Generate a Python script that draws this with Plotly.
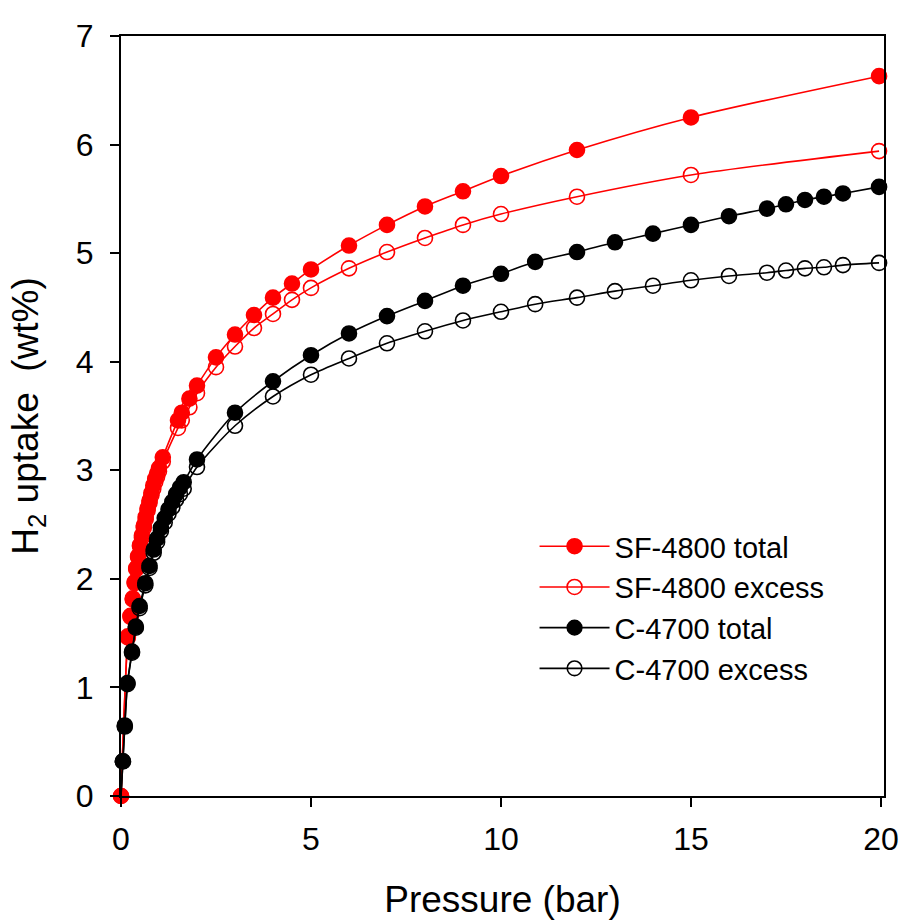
import plotly.graph_objects as go

# Hydrogen uptake isotherms (wt%) versus pressure (bar)
sf_total_p = [0, 0.18, 0.25, 0.31, 0.36, 0.4, 0.45, 0.5, 0.55, 0.6, 0.65, 0.7, 0.75,
              0.8, 0.85, 0.9, 0.95, 1.0, 1.1, 1.5, 1.6, 1.8, 2, 2.5, 3, 3.5, 4, 4.5,
              5, 6, 7, 8, 9, 10, 12, 15, 19.95]
sf_total_v = [0, 1.47, 1.66, 1.82, 1.97, 2.10, 2.21, 2.31, 2.40, 2.49, 2.57, 2.65, 2.72,
              2.79, 2.86, 2.92, 2.97, 3.02, 3.12, 3.46, 3.53, 3.66, 3.78, 4.04, 4.25,
              4.43, 4.59, 4.72, 4.85, 5.07, 5.26, 5.43, 5.57, 5.71, 5.95, 6.25, 6.63]

sf_excess_p = sf_total_p
sf_excess_v = [0, 1.46, 1.65, 1.81, 1.96, 2.09, 2.20, 2.30, 2.38, 2.47, 2.55, 2.63, 2.70,
               2.77, 2.83, 2.89, 2.94, 2.99, 3.08, 3.39, 3.46, 3.58, 3.71, 3.95, 4.14,
               4.31, 4.44, 4.57, 4.68, 4.86, 5.01, 5.14, 5.26, 5.36, 5.52, 5.72, 5.94]

c_total_p = [0, 0.05, 0.1, 0.17, 0.29, 0.39, 0.49, 0.64, 0.75, 0.86, 0.95, 1.05, 1.15,
             1.25, 1.35, 1.45, 1.55, 1.65, 2, 3, 4, 5, 6, 7, 8, 9, 10, 10.9, 12, 13,
             14, 15, 16, 17, 17.5, 18, 18.5, 19, 19.95]
c_total_v = [0, 0.32, 0.65, 1.04, 1.33, 1.56, 1.75, 1.96, 2.12, 2.27, 2.37, 2.47, 2.56,
             2.64, 2.71, 2.78, 2.84, 2.89, 3.10, 3.53, 3.82, 4.06, 4.26, 4.42, 4.56,
             4.70, 4.81, 4.92, 5.01, 5.10, 5.18, 5.26, 5.34, 5.41, 5.45, 5.49, 5.52,
             5.55, 5.61]

c_excess_p = c_total_p
c_excess_v = [0, 0.32, 0.64, 1.03, 1.32, 1.55, 1.73, 1.94, 2.10, 2.24, 2.34, 2.44, 2.52,
              2.60, 2.66, 2.73, 2.78, 2.83, 3.03, 3.41, 3.68, 3.88, 4.03, 4.17, 4.28,
              4.38, 4.46, 4.53, 4.59, 4.65, 4.70, 4.75, 4.79, 4.82, 4.84, 4.86, 4.87,
              4.89, 4.91]

# (label, pressures, uptake, colour, filled marker, marker shown at origin)
series = [
    ("SF-4800 total", sf_total_p, sf_total_v, "#ff0000", True, True),
    ("SF-4800 excess", sf_excess_p, sf_excess_v, "#ff0000", False, True),
    ("C-4700 total", c_total_p, c_total_v, "#000000", True, False),
    ("C-4700 excess", c_excess_p, c_excess_v, "#000000", False, False),
]

FONT = "Liberation Sans, Arial, sans-serif"
MARKER_SIZE = 15

fig = go.Figure()
for name, p, v, color, filled, origin_marker in series:
    sizes = [MARKER_SIZE if (origin_marker or x > 0) else 0 for x in p]
    fig.add_trace(go.Scatter(
        x=p, y=v, name=name, mode="lines+markers", cliponaxis=False,
        line=dict(color=color, width=1.6, shape="spline", smoothing=0.8),
        marker=dict(
            symbol="circle" if filled else "circle-open",
            size=sizes,
            opacity=1,
            color=color,
            line=dict(color=color, width=1.6),
        ),
    ))

fig.update_layout(
    width=900, height=923,
    margin=dict(l=121, r=16, t=36, b=127),
    paper_bgcolor="white", plot_bgcolor="white",
    font=dict(family=FONT, color="black"),
    showlegend=True,
    legend=dict(
        x=0.542, y=0.362, xanchor="left", yanchor="top",
        font=dict(family=FONT, size=29, color="black"),
        bgcolor="rgba(0,0,0,0)", itemwidth=70,
        tracegroupgap=0,
    ),
)

fig.update_xaxes(
    range=[0, 20.08], tickvals=[0, 5, 10, 15, 20],
    ticks="outside", ticklen=9, tickwidth=1.5, tickcolor="black",
    showline=True, linecolor="black", linewidth=2, mirror=True,
    showgrid=False, zeroline=False, automargin=False,
    ticklabelstandoff=5,
    tickfont=dict(family=FONT, size=32, color="black"),
    title=dict(text="Pressure (bar)", font=dict(family=FONT, size=37, color="black"),
               standoff=30),
)
fig.update_yaxes(
    range=[0, 7], tickvals=[0, 1, 2, 3, 4, 5, 6, 7],
    ticks="outside", ticklen=9, tickwidth=1.5, tickcolor="black",
    showline=True, linecolor="black", linewidth=2, mirror=True,
    showgrid=False, zeroline=False, automargin=False,
    ticklabelstandoff=10,
    tickfont=dict(family=FONT, size=32, color="black"),
    title=dict(text="H<sub>2</sub> uptake&nbsp; (wt%)",
               font=dict(family=FONT, size=37, color="black"), standoff=26),
)

fig.write_html("out.html")
